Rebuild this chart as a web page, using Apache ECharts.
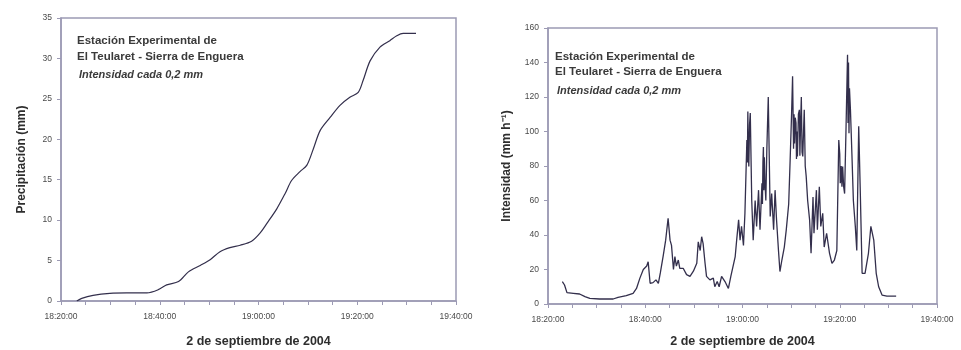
<!DOCTYPE html>
<html><head><meta charset="utf-8">
<script src="https://cdn.jsdelivr.net/npm/echarts@6/dist/echarts.min.js"></script>
<style>html,body{margin:0;padding:0;background:#fff}#c{width:961px;height:350px}</style>
</head><body><div id="c"></div>
<script>
// Time in minutes after 18:20:00
const xTickLabels = ['18:20:00','18:40:00','19:00:00','19:20:00','19:40:00'];
const precipTimes = [3.2,4.2,6.5,9.9,13.3,17.4,19.7,21.4,23.8,25.8,28.2,30.2,32.2,34.2,36.3,38.6,40.3,41.7,43.7,45.4,46.7,48.4,49.8,51.1,52.5,54.5,56.5,58.5,60.2,61.2,62.6,64.6,66.6,68.0,69.3,71.9];
const precipValues = [0,0.33,0.7,0.95,1.0,1.0,1.4,2.0,2.4,3.6,4.4,5.1,6.1,6.6,6.9,7.4,8.4,9.6,11.4,13.3,14.9,16.0,16.8,18.8,21.1,22.7,24.2,25.2,25.8,27.3,29.7,31.4,32.2,32.8,33.1,33.1];
const intTimes = [2.95,3.4,3.9,5.2,6.5,7.6,8.6,10.6,13.4,14.4,16.1,17.5,18.2,18.9,19.6,20.3,20.6,21.0,21.6,22.2,22.7,23.1,23.7,24.2,24.7,25.1,25.4,25.8,26.1,26.4,26.8,27.1,27.8,28.5,29.2,29.9,30.6,30.9,31.3,31.6,31.9,32.3,32.6,33.3,34.0,34.3,34.8,35.2,35.7,36.4,37.1,37.6,38.5,38.8,39.2,39.5,39.8,40.2,
  40.5,40.9,41.0,41.1,41.2,41.3,41.45,41.6,41.9,42.2,42.6,42.9,43.3,43.6,44.0,44.1,44.2,44.3,44.4,44.5,44.6,44.8,45.0,45.3,45.7,
  46.0,46.4,46.7,47.0,47.4,47.7,48.1,48.6,49.0,49.5,
  49.8,50.1,50.3,50.5,50.6,50.7,50.85,51.0,51.1,51.2,51.3,51.5,51.7,51.8,51.95,52.1,52.25,52.4,52.55,52.7,52.9,53.1,
  53.4,53.8,54.1,54.5,54.7,55.2,55.4,55.8,56.1,56.5,56.8,57.3,57.9,58.4,58.9,
  59.4,59.8,60.0,60.1,60.2,60.3,60.45,60.6,60.8,61.0,61.3,61.6,61.7,61.8,61.9,62.0,62.2,62.5,
  62.8,63.2,63.5,63.9,64.2,64.6,65.2,65.9,66.4,67.0,67.5,68.0,68.7,69.7,71.6];
const intValues = [13,11,6.6,6.2,5.8,4.3,3.3,2.9,2.9,3.9,4.8,6.2,9,15,20,22,24.5,12,12.4,14,12,18,28,37,49.7,37,34,20,27.5,22,25.5,20.7,20.7,17,16,19,23.6,36,31,39,35,23.6,16,14,15,10,13,10,16,13,9,16,27.5,37,48.8,37,45,34,
  52.6,95,82,111.6,88,79.7,104,110.7,60,37,60,45,66,43,70,58,82,91,66,85,72,60,89,120,50.7,
  64,43,66,48.8,31,18.8,25.5,33,43,58,
  83.6,110.7,132,90,110,93,108,105,84,100,85.5,110,112.6,86,105,120,88,85.5,100,112.6,80,74,
  60,48.8,29.4,62,41,66,43,68,45,52.6,33,41,29.4,23.6,25.5,
  31,95,87,70,72,80,68,79.7,68,64,103,144.5,105,140,99,125,112.6,87,
  60,45,31,103,68,17.8,17.8,29.4,45,37,17.8,10,5.2,4.6,4.6];
const annot1 = 'Estación Experimental de';
const annot2 = 'El Teularet - Sierra de Enguera';
const annot3 = 'Intensidad cada 0,2 mm';
const xTitle = '2 de septiembre de 2004';
const yTitleLeft = 'Precipitación (mm)';
const yTitleRight = 'Intensidad (mm h⁻¹)';

const FONT = '"Liberation Sans", Arial, sans-serif';
const frame = '#9c9ab4';
const lineCol = '#332f4c';
const txt = '#2e2e2e';

function xAxis(gi, gap) {
  return {
    gridIndex: gi, type: 'value', min: 0, max: 80, interval: 20,
    name: xTitle, nameLocation: 'middle', nameGap: gap,
    nameTextStyle: {fontFamily: FONT, fontWeight: 'bold', fontSize: 12.5, color: txt},
    axisLine: {show: true, lineStyle: {color: frame, width: 1.5}},
    axisTick: {show: true, length: 4, lineStyle: {color: frame}},
    minorTick: {show: true, splitNumber: 4, length: 4, lineStyle: {color: frame}},
    splitLine: {show: false},
    axisLabel: {fontFamily: FONT, fontSize: 8.5, color: '#4a4a4a', margin: 11,
      formatter: v => xTickLabels[Math.round(v / 20)]}
  };
}
function yAxis(gi, max, interval, name, gap) {
  return {
    gridIndex: gi, type: 'value', min: 0, max: max, interval: interval,
    name: name, nameLocation: 'middle', nameGap: gap,
    nameTextStyle: {fontFamily: FONT, fontWeight: 'bold', fontSize: 12, color: txt},
    axisLine: {show: true, lineStyle: {color: frame, width: 1.5}},
    axisTick: {show: true, length: 4, lineStyle: {color: frame}},
    splitLine: {show: false},
    axisLabel: {fontFamily: FONT, fontSize: 8.5, color: '#4a4a4a', margin: 9}
  };
}
function annots(x, y1, y2, y3) {
  const base = {fontFamily: FONT, fontSize: 11.5, fontWeight: 'bold', fill: '#3a3a3a'};
  return [
    {type: 'text', left: x, top: y1, style: Object.assign({text: annot1}, base)},
    {type: 'text', left: x, top: y2, style: Object.assign({text: annot2}, base)},
    {type: 'text', left: x + 2, top: y3, style: Object.assign({text: annot3}, base, {fontStyle: 'italic', fontSize: 11})}
  ];
}

const chart = echarts.init(document.getElementById('c'), null, {renderer: 'canvas'});
chart.setOption({
  animation: false,
  backgroundColor: '#fff',
  grid: [
    {left: 61, top: 18, width: 395, height: 283, containLabel: false, outerBoundsMode: 'none', show: true, borderColor: frame, borderWidth: 1.5, backgroundColor: 'transparent'},
    {left: 548, top: 28, width: 389, height: 276, containLabel: false, outerBoundsMode: 'none', show: true, borderColor: frame, borderWidth: 1.5, backgroundColor: 'transparent'}
  ],
  xAxis: [xAxis(0, 34), xAxis(1, 31)],
  yAxis: [yAxis(0, 35, 5, yTitleLeft, 33), yAxis(1, 160, 20, yTitleRight, 35)],
  series: [
    {type: 'line', xAxisIndex: 0, yAxisIndex: 0, showSymbol: false, smooth: 0.3,
     data: precipTimes.map((t, i) => [t, precipValues[i]]),
     lineStyle: {color: lineCol, width: 1.2}},
    {type: 'line', xAxisIndex: 1, yAxisIndex: 1, showSymbol: false,
     data: intTimes.map((t, i) => [t, intValues[i]]),
     lineStyle: {color: lineCol, width: 1.3}}
  ],
  graphic: annots(77, 35, 51, 69).concat(annots(555, 51, 66, 85))
});
</script></body></html>
